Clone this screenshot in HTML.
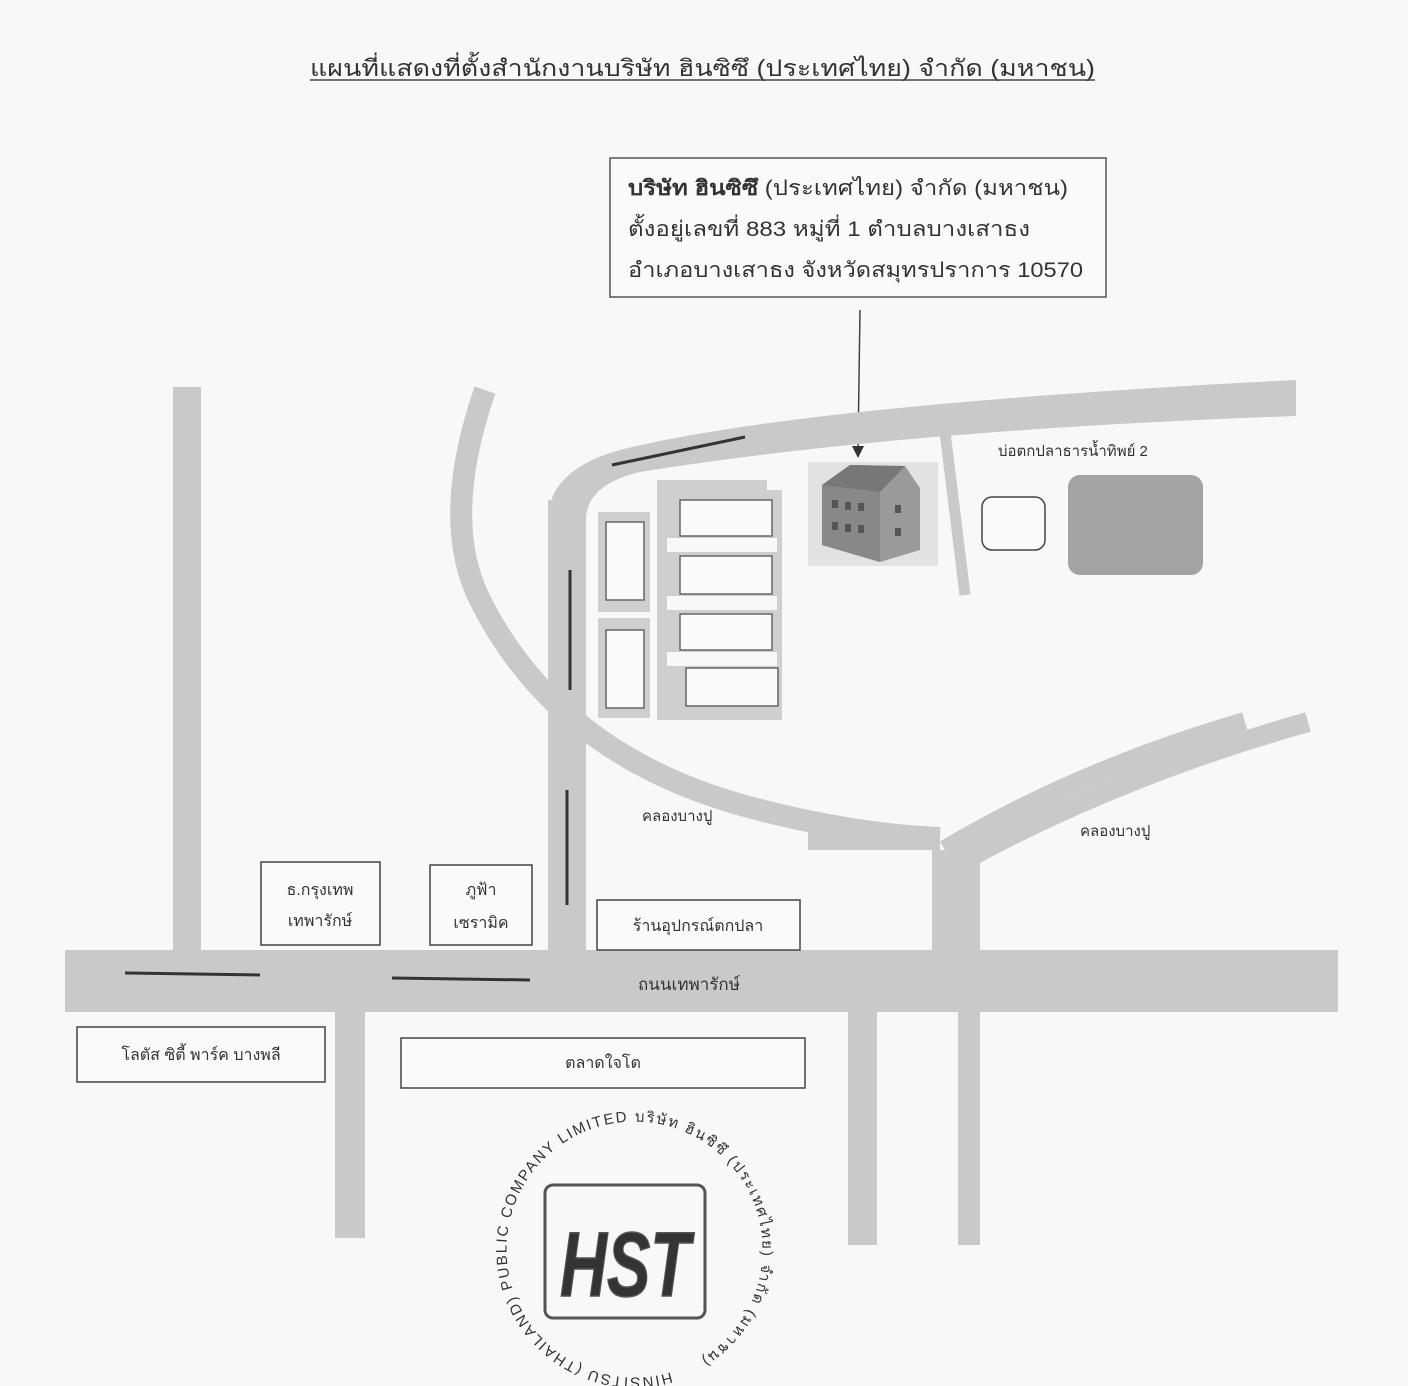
<!DOCTYPE html>
<html><head><meta charset="utf-8"><style>
html,body{margin:0;padding:0;background:#f8f8f8}
svg{display:block}
text{font-family:"Liberation Sans","Noto Sans CJK SC",sans-serif;fill:#333}
</style></head><body>
<svg width="1408" height="1386" viewBox="0 0 1408 1386" xmlns="http://www.w3.org/2000/svg">
<rect width="1408" height="1386" fill="#f8f8f8"/>
<text x="310" y="76" font-size="23" textLength="785" lengthAdjust="spacingAndGlyphs">แผนที่แสดงที่ตั้งสำนักงานบริษัท ฮินซิซึ (ประเทศไทย) จำกัด (มหาชน)</text>
<line x1="310" y1="80" x2="1095" y2="80" stroke="#444" stroke-width="1.5"/>

<rect x="610" y="158" width="496" height="139" fill="#fafafa" stroke="#555" stroke-width="1.5"/>
<text x="628" y="195" font-size="21" textLength="440" lengthAdjust="spacingAndGlyphs"><tspan font-weight="bold">บริษัท ฮินซิซึ</tspan> (ประเทศไทย) จำกัด (มหาชน)</text>
<text x="628" y="236" font-size="21" textLength="402" lengthAdjust="spacingAndGlyphs">ตั้งอยู่เลขที่ 883 หมู่ที่ 1 ตำบลบางเสาธง</text>
<text x="628" y="277" font-size="21" textLength="455" lengthAdjust="spacingAndGlyphs">อำเภอบางเสาธง จังหวัดสมุทรปราการ 10570</text>
<line x1="860" y1="310" x2="858" y2="448" stroke="#444" stroke-width="1.5"/>
<polygon points="852,446 864,446 858,458" fill="#333"/>

<g fill="#c9c9c9">
<rect x="173" y="387" width="28" height="570"/>
<rect x="65" y="950" width="1273" height="62"/>
<rect x="335" y="1005" width="30" height="233"/>
<rect x="848" y="1005" width="29" height="240"/>
<rect x="958" y="850" width="22" height="395"/>
<rect x="932" y="850" width="26" height="105"/>
<rect x="548" y="500" width="38" height="455"/>
<rect x="808" y="830" width="132" height="20"/>
</g>
<path d="M548 520 Q548 470 620 450 Q800 405 1296 380 L1296 416 Q900 430 640 472 Q586 485 586 520 Z" fill="#c9c9c9"/>
<path d="M485 390 Q440 520 480 600 Q560 760 760 810 Q860 835 940 838" fill="none" stroke="#c9c9c9" stroke-width="22"/>
<path d="M945 850 Q1080 770 1245 722" fill="none" stroke="#c9c9c9" stroke-width="20"/>
<path d="M968 858 Q1120 775 1308 722" fill="none" stroke="#c9c9c9" stroke-width="20"/>
<line x1="945" y1="432" x2="965" y2="595" stroke="#c9c9c9" stroke-width="11"/>

<g stroke="#333" stroke-width="3">
<line x1="612" y1="465" x2="745" y2="437"/>
<line x1="570" y1="570" x2="570" y2="690"/>
<line x1="567" y1="790" x2="567" y2="905"/>
<line x1="125" y1="973" x2="260" y2="975"/>
<line x1="392" y1="978" x2="530" y2="980"/>
</g>

<g fill="#cfcfcf">
<rect x="598" y="512" width="52" height="100"/>
<rect x="598" y="618" width="52" height="100"/>
<rect x="657" y="480" width="110" height="240"/>
<rect x="767" y="490" width="15" height="230"/>
</g>
<g fill="#fafafa" stroke="#666" stroke-width="1.5">
<rect x="606" y="522" width="38" height="78"/>
<rect x="606" y="630" width="38" height="78"/>
<rect x="680" y="500" width="92" height="36"/>
<rect x="680" y="556" width="92" height="38"/>
<rect x="680" y="614" width="92" height="36"/>
<rect x="686" y="668" width="92" height="38"/>
</g>
<g fill="#f8f8f8">
<rect x="667" y="538" width="110" height="14"/>
<rect x="667" y="596" width="110" height="14"/>
<rect x="667" y="652" width="110" height="14"/>
</g>

<rect x="808" y="462" width="130" height="104" fill="#e2e2e2"/>
<polygon points="822,485 850,465 905,466 920,488 920,550 880,562 822,545" fill="#9a9a9a"/>
<polygon points="822,485 880,492 880,562 822,545" fill="#888"/>
<polygon points="822,485 850,465 905,466 880,492" fill="#777"/>
<g fill="#555"><rect x="832" y="500" width="6" height="8"/><rect x="845" y="502" width="6" height="8"/><rect x="858" y="503" width="6" height="8"/><rect x="832" y="522" width="6" height="8"/><rect x="845" y="524" width="6" height="8"/><rect x="858" y="525" width="6" height="8"/><rect x="895" y="505" width="6" height="8"/><rect x="895" y="528" width="6" height="8"/></g>

<text x="998" y="456" font-size="15">บ่อตกปลาธารน้ำทิพย์ 2</text>
<rect x="982" y="497" width="63" height="53" rx="10" fill="#fafafa" stroke="#444" stroke-width="1.5"/>
<rect x="1068" y="475" width="135" height="100" rx="12" fill="#a3a3a3"/>

<text x="642" y="821" font-size="15">คลองบางปู</text>
<text x="1080" y="836" font-size="15">คลองบางปู</text>
<text x="638" y="990" font-size="17">ถนนเทพารักษ์</text>

<g fill="#fafafa" stroke="#444" stroke-width="1.5">
<rect x="261" y="862" width="119" height="83"/>
<rect x="430" y="865" width="102" height="80"/>
<rect x="597" y="900" width="203" height="50"/>
<rect x="77" y="1027" width="248" height="55"/>
<rect x="401" y="1038" width="404" height="50"/>
</g>
<g font-size="16" text-anchor="middle">
<text x="320" y="895">ธ.กรุงเทพ</text>
<text x="320" y="926">เทพารักษ์</text>
<text x="481" y="895">ภูฟ้า</text>
<text x="481" y="928">เซรามิค</text>
<text x="698" y="931">ร้านอุปกรณ์ตกปลา</text>
<text x="201" y="1060">โลตัส ซิตี้ พาร์ค บางพลี</text>
<text x="603" y="1068">ตลาดใจโต</text>
</g>

<defs><path id="circ" d="M670.8 1372.3 A128 128 0 1 1 671.8 1372" /></defs>
<rect x="545" y="1185" width="160" height="133" rx="8" fill="none" stroke="#555" stroke-width="3"/>
<text x="625" y="1296" font-size="92" font-weight="bold" font-style="italic" text-anchor="middle" fill="#999" stroke="#555" stroke-width="1.5" textLength="130" lengthAdjust="spacingAndGlyphs">HST</text>
<text font-size="15" font-family="Liberation Serif,serif" fill="#555" textLength="770" lengthAdjust="spacing"><textPath href="#circ">HINSITSU (THAILAND) PUBLIC COMPANY LIMITED บริษัท ฮินซิซึ (ประเทศไทย) จำกัด (มหาชน)</textPath></text>
</svg>
</body></html>
